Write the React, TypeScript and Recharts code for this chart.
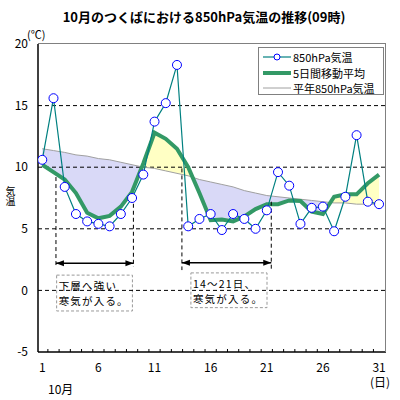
import React from "react";
import {
  Area,
  ComposedChart,
  Legend,
  Line,
  ReferenceArea,
  ReferenceLine,
  XAxis,
  YAxis
} from "recharts";

// 10月 1〜31日
const days = [1, 2, 3, 4, 5, 6, 7, 8, 9, 10, 11, 12, 13, 14, 15, 16, 17, 18, 19, 20, 21, 22, 23, 24, 25, 26, 27, 28, 29, 30, 31];
// 850hPa気温 (09時)
const observed = [10.6, 15.6, 8.4, 6.2, 5.6, 5.4, 5.2, 6.2, 7.5, 9.4, 13.7, 15.2, 18.3, 5.2, 5.8, 6.2, 4.9, 6.2, 5.8, 5.0, 6.5, 9.6, 8.5, 5.4, 6.7, 6.8, 4.8, 7.6, 12.6, 7.2, 7.0];
// 5日間移動平均
const movingAvg = [10.2, 9.6, 9.0, 7.9, 6.3, 5.85, 6.05, 6.8, 8.0, 10.3, 12.8, 12.3, 11.5, 10.0, 7.9, 5.7, 5.75, 5.6, 6.0, 6.6, 7.0, 7.0, 7.3, 7.25, 6.4, 6.2, 7.6, 7.8, 7.8, 8.7, 9.4];
// 平年850hPa気温
const normal = [11.5, 11.35, 11.2, 11.0, 10.9, 10.7, 10.6, 10.4, 10.2, 10.0, 9.9, 9.7, 9.5, 9.3, 9.0, 8.8, 8.6, 8.4, 8.1, 7.9, 7.7, 7.6, 7.5, 7.4, 7.3, 7.2, 7.1, 7.1, 7.0, 7.0, 7.0];

const dayTicks = [1, 6, 11, 16, 21, 26, 31];
const tempTicks = [-5, 0, 5, 10, 15, 20];
const gridTemps = [0, 5, 10, 15];

const X_DOMAIN: [number, number] = [0.62, 31.62];
const COLD = "#d9d9f7";
const WARM = "#ffffc4";
const FONT = "'Noto Sans CJK JP', 'Noto Sans', sans-serif";
const X_TICK_MARGIN = 11;

const annotations = [
  {
    left: 2.22, right: 9.12, leftTop: 9.2, rightTop: 7.6, bottom: 1.9, arrowY: 2.2,
    box: { x1: 2.28, x2: 9.03, y1: 1.24, y2: -1.67 },
    lines: ["下層へ強い", "寒気が入る。"]
  },
  {
    left: 13.44, right: 21.4, leftTop: 9.9, rightTop: 7.2, bottom: 1.65, arrowY: 2.25,
    box: { x1: 14.24, x2: 21.02, y1: 1.42, y2: -1.4 },
    lines: ["14～21日、", "寒気が入る。"]
  }
];

const rows = days.map((day, i) => ({
  day,
  obs: observed[i],
  avg: movingAvg[i],
  normal: normal[i],
  gap: [movingAvg[i], normal[i]]
}));

// labelled days plus small ticks between the days
const xTicks = [...dayTicks, ...days.slice(0, -1).map((d) => d + 0.5)];

// hard colour stops where the moving average crosses the normal
function gapStops() {
  const diff = days.map((_, i) => movingAvg[i] - normal[i]);
  let color = diff[0] < 0 ? COLD : WARM;
  const stops = [{ offset: 0, color }];
  for (let i = 0; i < diff.length - 1; i++) {
    if (diff[i] * diff[i + 1] < 0) {
      const off = (i + diff[i] / (diff[i] - diff[i + 1])) / (diff.length - 1);
      stops.push({ offset: off, color });
      color = color === COLD ? WARM : COLD;
      stops.push({ offset: off, color });
    }
  }
  stops.push({ offset: 1, color });
  return stops;
}

const DayTick = (p: any) => {
  const v = p.payload.value;
  if (dayTicks.includes(v)) {
    return (
      <text x={p.x} y={p.y} dy="0.71em" textAnchor="middle" fontSize={12} fontFamily={FONT} fill="#000">
        {v}
      </text>
    );
  }
  const axisY = p.y - X_TICK_MARGIN;
  return <line x1={p.x} x2={p.x} y1={axisY} y2={axisY - 3} stroke="#000" />;
};

const ArrowShape = (p: any) => {
  const { x1, y1, x2, y2 } = p;
  const h = 8;
  const w = 3;
  return (
    <g>
      <line x1={x1} y1={y1} x2={x2} y2={y2} stroke="#000" strokeWidth={1.5} />
      <polygon points={`${x1},${y1} ${x1 + h},${y1 - w} ${x1 + h},${y1 + w}`} fill="#000" />
      <polygon points={`${x2},${y2} ${x2 - h},${y2 - w} ${x2 - h},${y2 + w}`} fill="#000" />
    </g>
  );
};

const noteBox = (lines: string[]) => (p: any) => (
  <g>
    <rect x={p.x} y={p.y} width={p.width} height={p.height} fill="#fff" stroke="#999" strokeDasharray="3 2" />
    {lines.map((t, i) => (
      <text
        key={i}
        x={p.x + 2}
        y={p.y + 10.3 + i * 15.3}
        dominantBaseline="central"
        fontSize={10.5}
        letterSpacing={1.2}
        fontFamily={FONT}
        fill="#000"
      >
        {t}
      </text>
    ))}
  </g>
);

const legendItems = [
  { name: "850hPa気温", kind: "obs" },
  { name: "5日間移動平均", kind: "avg" },
  { name: "平年850hPa気温", kind: "normal" }
];

const LegendBox = () => (
  <div
    style={{
      position: "relative",
      width: 126,
      height: 48,
      boxSizing: "border-box",
      border: "1.5px solid #808080",
      background: "#fff",
      fontFamily: FONT,
      fontSize: 11,
      color: "#000"
    }}
  >
    {legendItems.map((it, i) => (
      <div key={it.kind} style={{ position: "absolute", left: 4, top: 1 + i * 15.5, height: 16, lineHeight: "16px", whiteSpace: "nowrap" }}>
        <svg width={28} height={16} style={{ verticalAlign: "top" }}>
          {it.kind === "obs" && (
            <>
              <line x1={0} y1={8} x2={28} y2={8} stroke="#008080" strokeWidth={1.2} />
              <circle cx={14} cy={8} r={3} fill="#fff" stroke="#0000ff" />
            </>
          )}
          {it.kind === "avg" && <line x1={0} y1={8} x2={28} y2={8} stroke="#339966" strokeWidth={4} />}
          {it.kind === "normal" && <line x1={0} y1={8} x2={28} y2={8} stroke="#a0a0a0" strokeWidth={1} />}
        </svg>
        <span style={{ marginLeft: 2 }}>{it.name}</span>
      </div>
    ))}
  </div>
);

export default function App() {
  const stops = gapStops();

  return (
    <div style={{ position: "absolute", left: 0, top: 0, width: 400, height: 400, background: "#fff", fontFamily: FONT }}>
      <div style={{ position: "absolute", left: 0, top: 7, width: 408, textAlign: "center", fontSize: 13, fontWeight: "bold" }}>
        10月のつくばにおける850hPa気温の推移(09時)
      </div>
      <div style={{ position: "absolute", left: 27, top: 26, fontSize: 11 }}>(℃)</div>
      <div style={{ position: "absolute", left: 4, top: 186, fontSize: 10, lineHeight: "12px", writingMode: "vertical-rl" }}>気温</div>
      <div style={{ position: "absolute", left: 48, top: 380, fontSize: 12 }}>10月</div>
      <div style={{ position: "absolute", left: 370, top: 373, fontSize: 12 }}>(日)</div>

      <ComposedChart width={400} height={400} data={rows} margin={{ top: 44, right: 14, bottom: 0, left: 0 }}>
        <defs>
          <linearGradient id="gapFill" x1="0" y1="0" x2="1" y2="0">
            {stops.map((s, i) => (
              <stop key={i} offset={s.offset} stopColor={s.color} />
            ))}
          </linearGradient>
        </defs>
        <XAxis
          type="number"
          dataKey="day"
          domain={X_DOMAIN}
          ticks={xTicks}
          interval={0}
          allowDataOverflow
          height={48}
          tickSize={0}
          tickMargin={X_TICK_MARGIN}
          tickLine={false}
          axisLine={{ stroke: "#000", strokeWidth: 1.5 }}
          tick={DayTick}
        />
        <YAxis
          type="number"
          domain={[-5, 20]}
          ticks={tempTicks}
          interval={0}
          allowDataOverflow
          width={38}
          tickSize={0}
          tickMargin={10}
          tickLine={false}
          axisLine={{ stroke: "#000", strokeWidth: 1.5 }}
          tick={{ fill: "#000", fontSize: 12, fontFamily: FONT }}
        />

        <Area
          type="linear"
          dataKey="gap"
          stroke="none"
          fill="url(#gapFill)"
          fillOpacity={1}
          activeDot={false}
          isAnimationActive={false}
        />

        {gridTemps.map((v) => (
          <ReferenceLine key={v} y={v} stroke="#000" strokeDasharray="4 3" />
        ))}

        <Line type="linear" dataKey="normal" stroke="#a0a0a0" strokeWidth={1} dot={false} activeDot={false} isAnimationActive={false} />
        <Line type="linear" dataKey="avg" stroke="#339966" strokeWidth={4} dot={false} activeDot={false} isAnimationActive={false} />
        <Line
          type="linear"
          dataKey="obs"
          stroke="#008080"
          strokeWidth={1.2}
          dot={{ r: 4.5, stroke: "#0000ff", strokeWidth: 1, fill: "#fff" }}
          activeDot={false}
          isAnimationActive={false}
        />

        {annotations.map((a, i) => [
          <ReferenceLine
            key={`l${i}`}
            segment={[{ x: a.left, y: a.leftTop }, { x: a.left, y: a.bottom }]}
            stroke="#000"
            strokeDasharray="4 3"
          />,
          <ReferenceLine
            key={`r${i}`}
            segment={[{ x: a.right, y: a.rightTop }, { x: a.right, y: a.bottom }]}
            stroke="#000"
            strokeDasharray="4 3"
          />,
          <ReferenceLine
            key={`a${i}`}
            segment={[{ x: a.left, y: a.arrowY }, { x: a.right, y: a.arrowY }]}
            shape={ArrowShape}
          />,
          <ReferenceArea
            key={`b${i}`}
            x1={a.box.x1}
            x2={a.box.x2}
            y1={a.box.y1}
            y2={a.box.y2}
            shape={noteBox(a.lines)}
          />
        ])}

        <Legend
          layout="vertical"
          align="center"
          verticalAlign="middle"
          content={LegendBox}
          wrapperStyle={{ left: 258, top: 47, width: 126, height: 48 }}
        />
      </ComposedChart>

      {/* gray frame on the top and right of the plot */}
      <div
        style={{
          position: "absolute",
          left: 38,
          top: 43,
          width: 348,
          height: 309,
          boxSizing: "border-box",
          borderTop: "1.5px solid #808080",
          borderRight: "1.5px solid #808080",
          pointerEvents: "none"
        }}
      />
    </div>
  );
}
